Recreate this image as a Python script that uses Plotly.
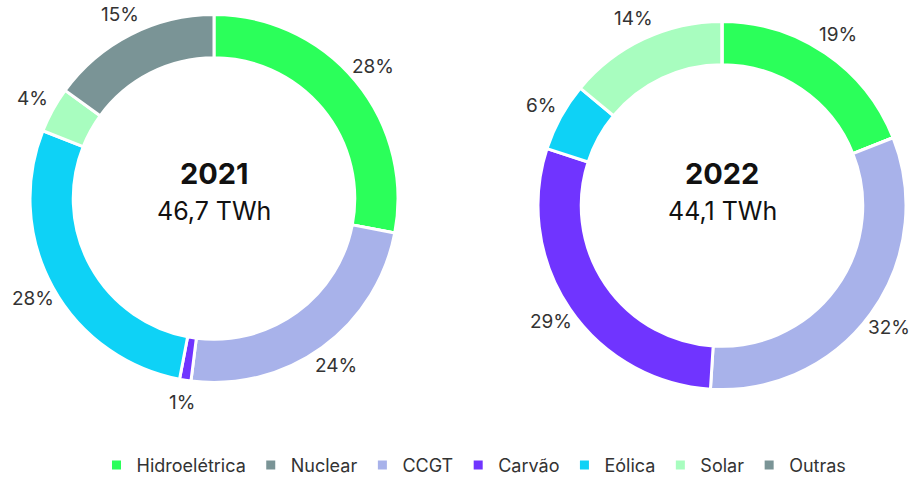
import math
import plotly.graph_objects as go

labels = ["Hidroelétrica", "Nuclear", "CCGT", "Carvão", "Eólica", "Solar", "Outras"]
colors = ["#2bff5a", "#7a9496", "#a8b2ea", "#7034ff", "#0ed2f6", "#a8fdbf", "#7a9496"]
share_2021 = [28, 0, 24, 1, 28, 4, 15]
share_2022 = [19, 0, 32, 29, 6, 14, 0]
years = ["2021", "2022"]
totals = ["46,7 TWh", "44,1 TWh"]

W, H = 912, 477
FONT = "Inter, sans-serif"

# donut boxes in pixels: left, right, top, bottom
boxes = [(30, 398, 14, 383), (538, 906, 21, 390)]

fig = go.Figure()

for vals, (x0, x1, y0, y1), yr, tot in zip([share_2021, share_2022], boxes, years, totals):
    fig.add_trace(go.Pie(
        labels=labels, values=vals,
        textinfo="none", hoverinfo="label+percent",
        hole=0.765, sort=False, direction="clockwise", rotation=0,
        marker=dict(colors=colors, line=dict(color="white", width=3)),
        domain=dict(x=[x0 / W, x1 / W], y=[1 - y1 / H, 1 - y0 / H]),
    ))

    # percent labels just outside the ring, at each slice's mid-angle
    cx, cy = (x0 + x1) / 2, (y0 + y1) / 2
    r_lab = (x1 - x0) / 2 + 23
    total = sum(vals)
    acc = 0
    for v in vals:
        if v > 0:
            ang = 2 * math.pi * (acc + v / 2) / total
            px = cx + r_lab * math.sin(ang)
            py = cy - r_lab * math.cos(ang)
            fig.add_annotation(
                x=px / W, y=1 - py / H, xref="paper", yref="paper",
                xanchor="center", yanchor="middle",
                text=f"{v}%", showarrow=False,
                font=dict(size=19, color="#333333", family=FONT),
            )
        acc += v

    # centre text
    fig.add_annotation(x=cx / W, y=1 - 173 / H, xref="paper", yref="paper",
                       xanchor="center", yanchor="middle",
                       text=f"<b>{yr}</b>", showarrow=False,
                       font=dict(size=29, color="#111111", family=FONT))
    fig.add_annotation(x=cx / W, y=1 - 211 / H, xref="paper", yref="paper",
                       xanchor="center", yanchor="middle",
                       text=tot, showarrow=False,
                       font=dict(size=25, color="#111111", family=FONT))

fig.update_layout(
    width=W, height=H,
    margin=dict(l=0, r=0, t=0, b=0, autoexpand=False),
    paper_bgcolor="white", plot_bgcolor="white",
    font=dict(family=FONT, color="#333333"),
    legend=dict(orientation="h", x=474 / W, xanchor="center", y=-0.014, yanchor="bottom",
                font=dict(size=18, color="#333333"), traceorder="normal"),
)

# page body has an 8px default margin; drop it so the chart sits at the window origin
fig.write_html("out.html", config={"displayModeBar": False},
               post_script="document.body.style.margin='0';")
